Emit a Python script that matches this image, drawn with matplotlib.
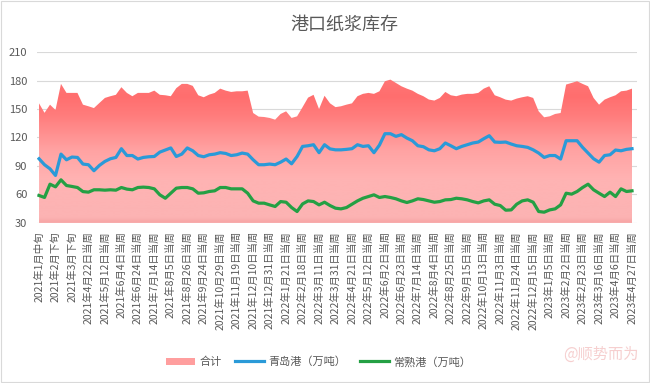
import numpy as np
import matplotlib
matplotlib.use("Agg")
import matplotlib.pyplot as plt
from matplotlib.colors import LinearSegmentedColormap, Normalize
from matplotlib.patches import Patch, Rectangle
from matplotlib.lines import Line2D

plt.rcParams['font.family'] = ['Noto Sans CJK SC', 'DejaVu Sans']

# 周度数据（万吨），按图读取的估计值
total = [156, 146, 154.6, 149, 176.5, 167, 167, 167, 154.6, 152.9,
         151, 156.4, 161.7, 163.5, 165, 173, 167, 163.5, 167, 167,
         167, 169.4, 165, 164.5, 163.5, 172, 176.5, 176.5, 174.4, 164.5,
         162.4, 165.2, 167, 171.5, 169.4, 168, 168.7, 168.7, 169.4, 145.8,
         142, 141.6, 140.6, 138.8, 144.8, 147.6, 140.6, 142.3, 152, 162,
         165, 150, 164, 156, 152, 152.9, 154.6, 156, 163.5, 166,
         167, 166, 168.7, 179.3, 181, 177.5, 174, 171.5, 169.4, 166,
         163.5, 160, 158.9, 161.7, 168, 164.5, 163.5, 165.2, 166, 166,
         167, 171.5, 174, 164.5, 162.4, 159.9, 158.9, 161, 162.4, 163.5,
         161.7, 147.6, 141.3, 142.3, 144.8, 145.8, 175.8, 177.5, 179.3, 176.5,
         174, 161.7, 154.6, 159.9, 162.4, 164.5, 168.7, 169.4, 171.5]

qingdao = [97.6, 91.3, 87, 80, 102.5, 96.5, 99.4, 99, 92, 91.3,
           85, 90.6, 94.8, 97.6, 99, 108.2, 101, 101, 97.3, 99,
           99.7, 100, 104.6, 106.8, 109, 100, 102.5, 109, 106, 101,
           99.7, 101.8, 102.5, 104, 103.2, 101, 101.8, 103.6, 102.5, 96.5,
           91.3, 91.3, 92, 91.3, 94, 97.3, 92.3, 100, 110.6, 111.3,
           112.4, 104, 112.4, 108, 107, 107, 107.5, 108.2, 112.4, 110.6,
           111.3, 104, 112, 124, 124, 121.2, 123, 119.4, 116.6, 111.3,
           110.3, 107, 106, 108.2, 114.2, 111.3, 108.2, 110.6, 112.4, 114.2,
           115.2, 118.7, 121.9, 115.2, 114.9, 115.2, 113.1, 111.3, 110.6, 109.6,
           107, 103.6, 99, 101, 101, 97.3, 116.6, 116.6, 116.6, 109.6,
           103.6, 97.6, 94, 101, 101.8, 106.8, 106, 107.5, 108.2]

changshu = [58.9, 56.8, 70.8, 68, 75.4, 69.4, 68.4, 67.3, 63, 62.4,
            64.9, 64.9, 64.5, 64.9, 64.5, 67.3, 65.6, 64.9, 67.3, 67.7,
            67.3, 65.9, 59.6, 56, 61.3, 66.6, 67.3, 67.3, 65.9, 61.3,
            61.7, 63.1, 63.8, 67.3, 67.3, 65.9, 65.9, 65.9, 61.3, 53.2,
            50.8, 50.8, 49, 47.3, 52.5, 51.8, 46.2, 42, 50, 53.2,
            52.5, 49, 51.8, 48.3, 45.5, 44.8, 46.2, 49.7, 53.2, 56,
            57.8, 59.6, 56.8, 57.8, 56.8, 55.4, 53.2, 51.5, 53.2, 55.4,
            54.6, 53.2, 51.8, 52.5, 54.3, 54.6, 56, 55.4, 54.3, 52.5,
            51.1, 53.2, 54.3, 49.7, 48.3, 43.4, 43.7, 49.7, 53.2, 54.3,
            51.8, 42, 41.3, 43.7, 44.8, 49, 61.3, 60.3, 63.1, 67.3,
            70.8, 64.9, 61.3, 57.8, 62.4, 57.8, 65.9, 63.1, 63.8]

# 每隔三周显示一个标签
tick_labels = ['2021年1月中旬', '2021年2月下旬', '2021年3月下旬',
               '2021年4月22日当周', '2021年5月12日当周', '2021年6月4日当周',
               '2021年6月24日当周', '2021年7月14日当周', '2021年8月5日当周',
               '2021年8月26日当周', '2021年9月24日当周', '2021年10月29日当周',
               '2021年11月19日当周', '2021年12月10日当周', '2021年12月31日当周',
               '2022年1月21日当周', '2022年2月18日当周', '2022年3月11日当周',
               '2022年3月31日当周', '2022年4月21日当周', '2022年5月12日当周',
               '2022年6月2日当周', '2022年6月23日当周', '2022年7月14日当周',
               '2022年8月4日当周', '2022年8月25日当周', '2022年9月15日当周',
               '2022年10月13日当周', '2022年11月3日当周', '2022年11月24日当周',
               '2022年12月15日当周', '2023年1月5日当周', '2023年2月2日当周',
               '2023年2月23日当周', '2023年3月16日当周', '2023年4月6日当周',
               '2023年4月27日当周']
label_step = 3

x = np.arange(len(total))
gray = '#595959'

fig = plt.figure(figsize=(6.5, 3.83), dpi=100)
ax = fig.add_axes([0.057, 0.418, 0.923, 0.446])

# 合计：渐变填充面积
poly = ax.fill_between(x, 30, total, facecolor='none', edgecolor='none')
cmap = LinearSegmentedColormap.from_list('pinkgrad', [
    (0.00, '#F7A4A4'),
    (0.04, '#FCB3B3'),
    (0.30, '#FFB3B3'),
    (0.50, '#FFA3A3'),
    (0.75, '#FF7C7C'),
    (0.88, '#FF6E6E'),
    (1.00, '#FF7676'),
])
top = max(total)
grad = np.linspace(30, top, 256).reshape(-1, 1)
img = ax.imshow(grad, cmap=cmap, norm=Normalize(30, top), origin='lower',
                extent=[x[0], x[-1], 30, top], aspect='auto', zorder=1)
img.set_clip_path(poly.get_paths()[0], transform=ax.transData)

ax.plot(x, qingdao, color='#2A9AD8', lw=2.3, zorder=3, solid_joinstyle='round')
ax.plot(x, changshu, color='#24A044', lw=2.3, zorder=3, solid_joinstyle='round')

ax.set_xlim(-0.36, len(total) - 1 + 0.91)
ax.set_ylim(30, 210)
ax.set_yticks(np.arange(30, 211, 30))
ax.set_xticks(x[::label_step])
ax.set_xticklabels(tick_labels, rotation=90, fontsize=7.5, color=gray)
ax.tick_params(axis='y', length=0, pad=7, labelsize=8, labelcolor=gray)
ax.tick_params(axis='x', length=0, pad=6)
ax.grid(axis='y', color='#D9D9D9', lw=0.8, zorder=0)
ax.set_axisbelow(True)
for s in ax.spines.values():
    s.set_visible(False)

fig.text(0.53, 0.935, '港口纸浆库存', ha='center', va='center', fontsize=13, color=gray)

handles = [Patch(facecolor='#FF9E9E', edgecolor='none'),
           Line2D([], [], color='#2A9AD8', lw=2.3),
           Line2D([], [], color='#24A044', lw=2.3)]
fig.legend(handles, ['合计', '青岛港（万吨）', '常熟港（万吨）'], loc='center',
           bbox_to_anchor=(0.49, 0.055), ncol=3, frameon=False, fontsize=8,
           handlelength=2.6, handletextpad=0.4, columnspacing=1.2, labelcolor=gray)

fig.text(0.925, 0.075, '@顺势而为', ha='center', va='center', fontsize=11,
         color='#F4C4C4', alpha=0.8)

fig.add_artist(Rectangle((0.002, 0.003), 0.996, 0.994, transform=fig.transFigure,
                         fill=False, edgecolor='#D9D9D9', lw=0.8))

fig.savefig('out.png', dpi=100)
